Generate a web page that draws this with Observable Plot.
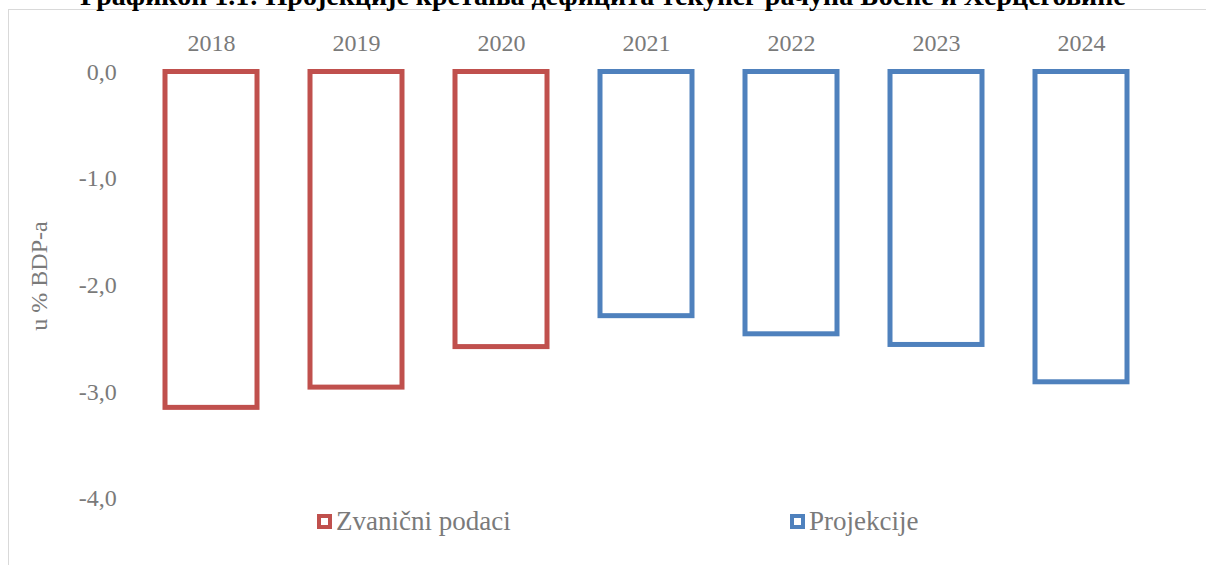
<!DOCTYPE html>
<html>
<head>
<meta charset="utf-8">
<script src="https://cdn.jsdelivr.net/npm/d3@7"></script>
<script src="https://cdn.jsdelivr.net/npm/@observablehq/plot@0.6"></script>
<style>
  html, body { margin: 0; padding: 0; background: #fff; overflow: hidden; }
  #wrap { position: relative; width: 1206px; height: 565px; overflow: hidden; font-family: 'Liberation Serif', 'Times New Roman', serif; }
  #title { position: absolute; left: 0; width: 1206px; top: -18px; text-align: center; font-weight: bold; font-size: 28px; line-height: 1; color: #000; white-space: nowrap; font-family: 'Liberation Serif', serif; }
  #frame { position: absolute; left: 8px; top: 9px; width: 1300px; height: 700px; border-left: 1.5px solid #d9d9d9; border-top: 1.5px solid #d9d9d9; }
  #chart { position: absolute; left: 0; top: 0; }
  #ylabel { position: absolute; left: 39px; top: 276px; transform: translate(-50%, -50%) rotate(-90deg); font-size: 24px; color: #7a7a7a; white-space: nowrap; font-family: 'Liberation Serif', serif; line-height: 1; }
  #legend { position: absolute; top: 503px; left: 0; width: 1206px; height: 36px; font-size: 27px; color: #7a7a7a; font-family: 'Liberation Serif', serif; }
  .item { position: absolute; top: 0; display: flex; align-items: center; height: 36px; }
  .sw { width: 7px; height: 7px; border: 4.5px solid; background: #fff; margin-right: 4px; }
</style>
</head>
<body>
<div id="wrap">
  <div id="frame"></div>
  <div id="title"></div>
  <div id="chart"></div>
  <div id="ylabel"></div>
  <div id="legend"></div>
</div>
<script>
const title = "Графикон 1.1: Пројекције кретања дефицита текућег рачуна Босне и Херцеговине";
const years = ["2018", "2019", "2020", "2021", "2022", "2023", "2024"];
const values = [-3.15, -2.96, -2.58, -2.29, -2.46, -2.56, -2.91];
const types = ["Zvanični podaci", "Zvanični podaci", "Zvanični podaci", "Projekcije", "Projekcije", "Projekcije", "Projekcije"];
const seriesNames = ["Zvanični podaci", "Projekcije"];
const seriesColors = ["#C0504D", "#4F81BD"];
const yTicks = [0, -1, -2, -3, -4];
const yLabel = "u % BDP-a";

const data = years.map((y, i) => ({year: y, value: values[i], type: types[i]}));
const fmt = d => (d < 0 ? "-" : "") + Math.abs(d).toFixed(1).replace(".", ",");
const gray = "#7a7a7a";

document.getElementById("title").textContent = title;
document.getElementById("ylabel").textContent = yLabel;

const chart = Plot.plot({
  width: 1206,
  height: 565,
  marginLeft: 136.25,
  marginRight: 51.25,
  marginTop: 71.5,
  marginBottom: 67,
  style: {fontFamily: "'Liberation Serif', serif", background: "transparent", overflow: "visible"},
  x: {domain: years, paddingInner: 0.368, paddingOuter: 0.184},
  y: {domain: [-4, 0]},
  color: {domain: seriesNames, range: seriesColors},
  marks: [
    Plot.barY(data, {x: "year", y: "value", fill: "white", stroke: "type", strokeWidth: 5}),
    Plot.axisY({ticks: yTicks, tickSize: 0, tickPadding: 20, tickFormat: fmt, fontSize: 24, fill: gray, label: null}),
    Plot.axisX({anchor: "top", tickSize: 0, tickPadding: 21, fontSize: 24, fill: gray, label: null})
  ]
});
document.getElementById("chart").appendChild(chart);

const legend = document.getElementById("legend");
const legendX = [317, 790];
seriesNames.forEach((name, i) => {
  const item = document.createElement("div");
  item.className = "item";
  item.style.left = legendX[i] + "px";
  const sw = document.createElement("span");
  sw.className = "sw";
  sw.style.borderColor = seriesColors[i];
  const label = document.createElement("span");
  label.textContent = name;
  item.appendChild(sw);
  item.appendChild(label);
  legend.appendChild(item);
});
</script>
</body>
</html>
